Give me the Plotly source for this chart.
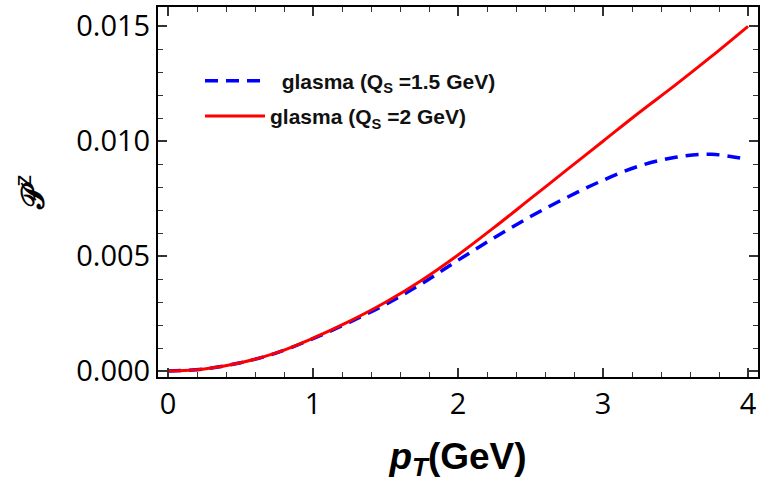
import plotly.graph_objects as go

pt = [0, 0.25, 0.5, 0.75, 1.0, 1.25, 1.5, 1.75, 2.0, 2.25, 2.5, 2.75, 3.0, 3.25, 3.5, 3.75, 4.0]
pz_q2 = [0, 0.00009, 0.00036, 0.00080, 0.00143, 0.00216, 0.00299, 0.00395, 0.00505, 0.00625, 0.00750, 0.00875, 0.01000, 0.01125, 0.01245, 0.01370, 0.01500]
pz_q15 = [0, 0.00009, 0.00036, 0.00079, 0.00141, 0.00212, 0.00290, 0.00380, 0.00482, 0.00580, 0.00672, 0.00755, 0.00830, 0.00892, 0.00930, 0.00943, 0.00920]
x_major = [0, 1, 2, 3, 4]
x_minor = [round(0.2 * i, 1) for i in range(21)]
y_major = [0, 0.005, 0.010, 0.015]
y_labels = ["0.000", "0.005", "0.010", "0.015"]
y_minor = [round(0.001 * i, 3) for i in range(16)]

names = ["&nbsp;&nbsp;glasma (Q<sub>S</sub> =1.5 GeV)", "glasma (Q<sub>S</sub> =2 GeV)"]

fig = go.Figure()
fig.add_trace(go.Scatter(x=pt, y=pz_q15, mode="lines", name="<b>" + names[0] + "</b>",
                         legendgroup="a",
                         line=dict(color="#0000FF", width=3.5, dash="13px,8px", shape="spline")))
fig.add_trace(go.Scatter(x=pt, y=pz_q2, mode="lines", name="<b>" + names[1] + "</b>",
                         legendgroup="b",
                         line=dict(color="#FF0000", width=3, shape="spline")))

xr = [-0.069, 4.069]
yr = [-0.00026, 0.01584]
tf = dict(family="Open Sans, Liberation Sans, sans-serif", size=29, color="black")


def tick_axis(over, anchor, side, rng, vals, length, width):
    return dict(overlaying=over, anchor=anchor, side=side, range=rng, tickvals=vals,
                showticklabels=False, ticks="inside", ticklen=length, tickwidth=width,
                tickcolor="#333333", mirror="allticks", showline=False, showgrid=False,
                zeroline=False)


fig.update_layout(
    xaxis2=tick_axis("x", "y", "bottom", xr, x_minor, 5, 1.3),
    yaxis2=tick_axis("y", "x", "left", yr, y_minor, 5, 1.3),
    xaxis3=tick_axis("x", "y", "bottom", xr, x_major, 9, 1.6),
    yaxis3=tick_axis("y", "x", "left", yr, y_major, 9, 1.6),
)
# invisible traces to activate the tick axes
fig.add_trace(go.Scatter(x=[pt[0]], y=[pz_q2[0]], xaxis="x2", yaxis="y2", mode="markers",
                         marker=dict(opacity=0), showlegend=False, hoverinfo="skip"))
fig.add_trace(go.Scatter(x=[pt[0]], y=[pz_q2[0]], xaxis="x3", yaxis="y3", mode="markers",
                         marker=dict(opacity=0), showlegend=False, hoverinfo="skip"))

fig.layout.xaxis.update(range=xr, tickvals=x_major,
                        showline=True, linecolor="black", linewidth=2, mirror=True,
                        ticks="", showgrid=False, zeroline=False, tickfont=tf,
                        title=dict(text="<b><i>p<sub>T</sub></i>(GeV)</b>",
                                   font=dict(family="Liberation Sans, Arial, sans-serif", size=37, color="black"),
                                   standoff=22))
fig.layout.yaxis.update(range=yr, tickvals=y_major, ticktext=y_labels,
                        showline=True, linecolor="black", linewidth=2, mirror=True,
                        ticks="", showgrid=False, zeroline=False, tickfont=tf,
                        title=dict(text="<b>𝒫</b><sup>z</sup>",
                                   font=dict(family="DejaVu Sans, DejaVu Serif, serif", size=32, color="black"),
                                   standoff=22))

fig.update_layout(width=776, height=486, margin=dict(l=158, r=18, t=5, b=109),
                  plot_bgcolor="white", paper_bgcolor="white",
                  legend=dict(x=0.07, y=0.855, xanchor="left", yanchor="top",
                              bgcolor="rgba(0,0,0,0)", traceorder="grouped",
                              font=dict(family="Liberation Sans, Arial, sans-serif", size=21, color="#111111"),
                              itemwidth=60, tracegroupgap=5))

fig.write_html("out.html")
